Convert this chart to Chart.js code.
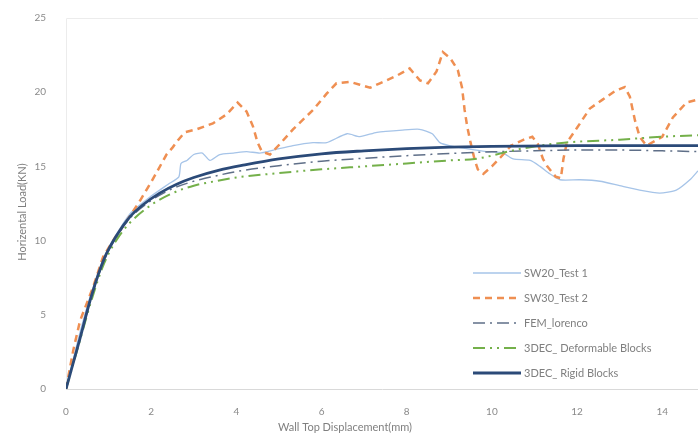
<!DOCTYPE html>
<html>
<head>
<meta charset="utf-8">
<script src="https://cdn.jsdelivr.net/npm/chart.js@4"></script>
<style>
  html, body { margin: 0; padding: 0; background: #fff; }
  #wrap { width: 698px; height: 434px; }
</style>
</head>
<body>
<div id="wrap"><canvas id="myChart" width="698" height="434"></canvas></div>
<script>
// tick labels
const xTicks = [0, 2, 4, 6, 8, 10, 12, 14];
const yTicks = [0, 5, 10, 15, 20, 25];

// SW20_Test 1
const test1X = [0, 0.3, 0.6, 1.0, 1.5, 2.0, 2.4, 2.65, 2.7, 2.84, 3.0, 3.2, 3.38, 3.61, 3.93, 4.24, 4.55, 4.87, 5.33, 5.8, 6.12, 6.6, 6.9, 7.3, 7.9, 8.3, 8.6, 8.78, 9.0, 9.4, 9.87, 10.26, 10.5, 10.9, 11.13, 11.36, 11.6, 12.07, 12.54, 13.0, 13.47, 13.94, 14.33, 14.65, 14.84];
const test1Y = [0, 3.5, 6.5, 9.5, 11.8, 13.0, 13.8, 14.3, 15.2, 15.4, 15.8, 15.9, 15.4, 15.8, 15.9, 16.0, 15.9, 16.1, 16.4, 16.6, 16.6, 17.2, 17.0, 17.3, 17.45, 17.5, 17.2, 16.6, 16.4, 16.2, 16.0, 15.9, 15.5, 15.4, 15.0, 14.5, 14.1, 14.1, 14.0, 13.7, 13.4, 13.2, 13.4, 14.1, 14.7];

// SW30_Test 2
const test2X = [0, 0.17, 0.33, 0.64, 0.87, 1.15, 1.42, 1.74, 1.97, 2.13, 2.36, 2.51, 2.64, 2.79, 3.07, 3.45, 3.77, 4.03, 4.24, 4.39, 4.5, 4.6, 4.79, 5.02, 5.33, 5.8, 6.12, 6.35, 6.67, 6.9, 7.14, 7.37, 7.76, 8.07, 8.31, 8.5, 8.7, 8.85, 9.02, 9.2, 9.3, 9.36, 9.42, 9.5, 9.6, 9.67, 9.8, 10.0, 10.2, 10.45, 10.75, 10.95, 11.08, 11.2, 11.3, 11.5, 11.62, 11.68, 11.76, 12.0, 12.3, 12.6, 12.9, 13.12, 13.24, 13.36, 13.47, 13.63, 14.0, 14.25, 14.57, 14.84];
const test2Y = [0, 2.6, 4.6, 6.9, 8.9, 10.2, 11.3, 12.7, 13.8, 14.6, 15.8, 16.3, 16.8, 17.3, 17.5, 17.9, 18.5, 19.3, 18.7, 17.7, 16.6, 16.0, 15.8, 16.5, 17.5, 18.8, 19.9, 20.6, 20.7, 20.5, 20.3, 20.6, 21.1, 21.6, 20.8, 20.6, 21.4, 22.7, 22.3, 21.5, 20.3, 18.8, 17.7, 16.6, 15.4, 14.8, 14.5, 15.0, 15.6, 16.4, 16.8, 17.0, 16.5, 15.5, 15.0, 14.3, 14.2, 15.5, 16.6, 17.6, 18.9, 19.5, 20.1, 20.35, 19.7, 18.1, 17.0, 16.4, 17.0, 18.3, 19.3, 19.5];

// FEM_lorenco
const femX = [0, 0.3, 0.6, 0.9, 1.2, 1.5, 2.0, 2.5, 3.0, 3.5, 4.0, 5.0, 6.0, 7.0, 8.0, 9.0, 10.0, 11.0, 12.0, 13.0, 14.0, 14.84];
const femY = [0, 3.1, 6.2, 8.7, 10.3, 11.5, 12.7, 13.5, 14.0, 14.35, 14.65, 15.05, 15.35, 15.55, 15.72, 15.87, 15.98, 16.05, 16.1, 16.1, 16.05, 16.0];

// 3DEC_ Deformable Blocks
const deformX = [0, 0.3, 0.6, 0.9, 1.2, 1.5, 2.0, 2.5, 3.0, 3.5, 4.0, 5.0, 6.0, 7.0, 8.0, 9.0, 9.6, 10.7, 11.7, 13.0, 14.0, 14.84];
const deformY = [0, 3.0, 6.0, 8.5, 10.1, 11.2, 12.4, 13.2, 13.7, 14.0, 14.25, 14.55, 14.8, 15.0, 15.2, 15.4, 15.5, 16.2, 16.6, 16.8, 17.0, 17.1];

// 3DEC_ Rigid Blocks
const rigidX = [0, 0.3, 0.6, 0.9, 1.2, 1.5, 1.8, 2.2, 2.6, 3.0, 3.6, 4.2, 5.0, 6.0, 7.0, 8.0, 9.0, 10.0, 12.0, 14.0, 14.84];
const rigidY = [0, 3.1, 6.3, 8.8, 10.4, 11.6, 12.4, 13.2, 13.8, 14.25, 14.75, 15.1, 15.5, 15.85, 16.05, 16.2, 16.3, 16.35, 16.4, 16.4, 16.4];

function pts(xs, ys) {
  return xs.map((x, i) => ({ x: x, y: ys[i] }));
}

const FONT = "Lato, 'Open Sans', sans-serif";
const TEXT = "#8a8a8a";

// legend drawn inside the plot, plus frame and axis titles
const frameAndLegend = {
  id: "frameAndLegend",
  beforeDatasetsDraw(chart) {
    const ctx = chart.ctx;
    const a = chart.chartArea;
    ctx.save();
    ctx.strokeStyle = "#ececec";
    ctx.lineWidth = 1;
    ctx.beginPath();
    ctx.moveTo(a.left + 0.5, a.bottom);
    ctx.lineTo(a.left + 0.5, a.top + 0.5);
    ctx.lineTo(a.right, a.top + 0.5);
    ctx.stroke();
    ctx.restore();
  },
  afterDraw(chart) {
    const ctx = chart.ctx;
    const a = chart.chartArea;
    ctx.save();
    // axis titles
    ctx.fillStyle = "#7f7f7f";
    ctx.font = "11px " + FONT;
    ctx.textAlign = "center";
    ctx.textBaseline = "middle";
    ctx.fillText("Wall Top Displacement(mm)", 345, 427);
    ctx.translate(22, 212);
    ctx.rotate(-Math.PI / 2);
    ctx.fillText("Horizental Load(KN)", 0, 0);
    ctx.restore();

    // legend
    ctx.save();
    const lx = 473, lw = 48, top = 273, step = 25;
    const order = [0, 1, 2, 3, 4];
    ctx.font = "11px " + FONT;
    ctx.textAlign = "left";
    ctx.textBaseline = "middle";
    order.forEach((di, row) => {
      const ds = chart.data.datasets[di];
      const y = top + row * step;
      ctx.strokeStyle = ds.borderColor;
      ctx.lineWidth = ds.borderWidth;
      ctx.setLineDash(ds.borderDash || []);
      ctx.beginPath();
      ctx.moveTo(lx, y);
      ctx.lineTo(lx + lw, y);
      ctx.stroke();
      ctx.setLineDash([]);
      ctx.fillStyle = "#7f7f7f";
      ctx.fillText(ds.label, lx + lw + 3, y);
    });
    ctx.restore();
  },
};

const ctx = document.getElementById("myChart");
const myChart = new Chart(ctx, {
  type: "line",
  data: {
    datasets: [
      {
        label: "SW20_Test 1",
        data: pts(test1X, test1Y),
        borderColor: "#a6c4e8",
        borderWidth: 1.3,
        tension: 0.2,
        order: 4,
      },
      {
        label: "SW30_Test 2",
        data: pts(test2X, test2Y),
        borderColor: "#ef8f52",
        borderWidth: 2.5,
        borderDash: [7, 5],
        tension: 0,
        order: 3,
      },
      {
        label: "FEM_lorenco",
        data: pts(femX, femY),
        borderColor: "#5f6f88",
        borderWidth: 1.5,
        borderDash: [12, 5, 2, 5],
        cubicInterpolationMode: "monotone",
        order: 2,
      },
      {
        label: "3DEC_ Deformable Blocks",
        data: pts(deformX, deformY),
        borderColor: "#74b04a",
        borderWidth: 2,
        borderDash: [12, 5, 2, 5, 2, 5],
        cubicInterpolationMode: "monotone",
        order: 1,
      },
      {
        label: "3DEC_ Rigid Blocks",
        data: pts(rigidX, rigidY),
        borderColor: "#2b4a78",
        borderWidth: 2.8,
        cubicInterpolationMode: "monotone",
        order: 0,
      },
    ],
  },
  options: {
    responsive: false,
    animation: false,
    parsing: true,
    elements: { point: { radius: 0 } },
    layout: { padding: { top: 18, right: 0, left: 0, bottom: 0 } },
    plugins: {
      legend: { display: false },
      tooltip: { enabled: false },
    },
    scales: {
      x: {
        type: "linear",
        min: 0,
        max: 14.84,
        afterBuildTicks: (scale) => {
          scale.ticks = xTicks.map((v) => ({ value: v }));
        },
        afterFit: (scale) => {
          scale.height = 45;
        },
        grid: { display: true, drawOnChartArea: false, drawTicks: false },
        border: { display: true, color: "#d9d9d9", width: 1 },
        ticks: {
          color: TEXT,
          font: { family: FONT, size: 10 },
          padding: 17,
          maxRotation: 0,
          autoSkip: false,
        },
      },
      y: {
        type: "linear",
        min: 0,
        max: 25,
        afterBuildTicks: (scale) => {
          scale.ticks = yTicks.map((v) => ({ value: v }));
        },
        afterFit: (scale) => {
          scale.width = 66;
        },
        grid: { display: false },
        border: { display: false },
        ticks: {
          color: TEXT,
          font: { family: FONT, size: 10 },
          padding: 12,
        },
      },
    },
  },
  plugins: [frameAndLegend],
});
</script>
</body>
</html>
